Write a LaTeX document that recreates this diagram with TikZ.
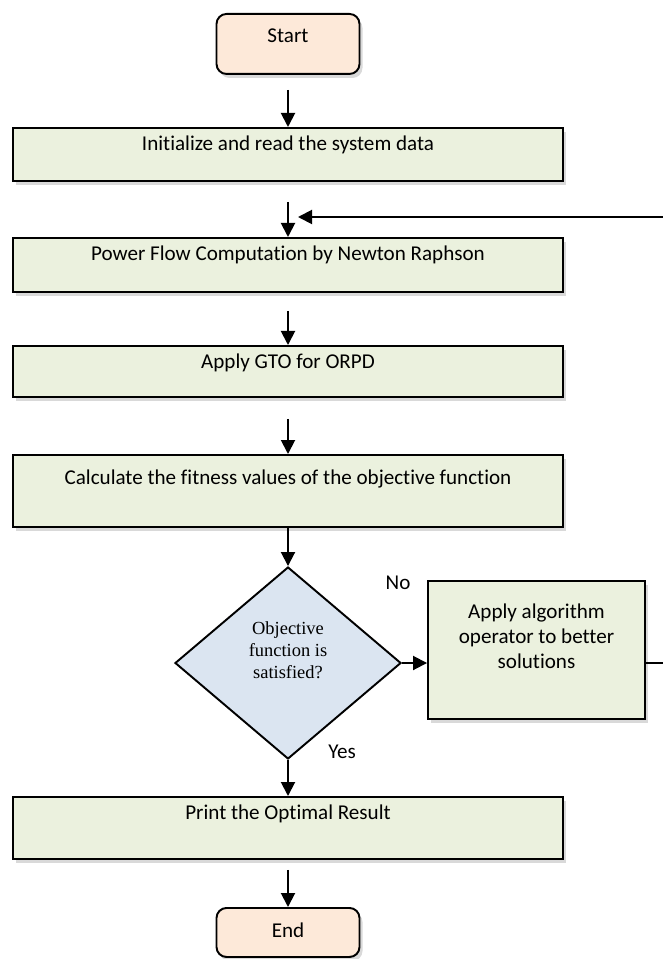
\documentclass[tikz,border=0pt]{standalone}
\usepackage{fontspec}
\setmainfont[Ligatures=NoCommon]{Carlito}
\newfontfamily\qfont{Liberation Serif}
\usepackage{tikz}
\usetikzlibrary{arrows.meta, shapes.geometric, shadows}
\usepackage{xcolor}
\definecolor{boxgreen}{RGB}{235,241,222}
\definecolor{termpeach}{RGB}{253,233,217}
\definecolor{decblue}{RGB}{219,229,241}

\begin{document}
\begin{tikzpicture}[every node/.style={font=\fontsize{12}{14.5}\selectfont},
	gbox/.style={draw, line width=1.1pt, fill=boxgreen, inner sep=0pt, drop shadow={shadow xshift=0.06cm, shadow yshift=-0.08cm, opacity=0.3}},
	procbox/.style={gbox, minimum width=11cm, text height=0.46cm, anchor=north},
	termbox/.style={draw, line width=1.1pt, fill=termpeach, rounded corners=0.2cm, minimum width=2.86cm, inner sep=0pt, anchor=north, drop shadow={shadow xshift=0.06cm, shadow yshift=-0.08cm, opacity=0.3}},
	flow/.style={-{Triangle[length=0.28cm,width=0.28cm]}, line width=1.1pt}]
			\useasboundingbox (0,0) rectangle (13.24,-19.18);
			
			\node[termbox, text height=0.58cm, text depth=0.62cm] (start) at (5.76,-0.26) {Start};
			\node[procbox, text depth=0.6cm] (init) at (5.76,-2.54) {Initialize and read the system data};
			\node[procbox, text depth=0.62cm] (pf) at (5.76,-4.74) {Power Flow Computation by Newton Raphson};
			\node[procbox, text depth=0.56cm] (gto) at (5.76,-6.9) {Apply GTO for ORPD};
			\node[procbox, text height=0.6cm, text depth=0.84cm] (fit) at (5.76,-9.08) {Calculate the fitness values of the objective function};
			
			\node[diamond, draw, line width=1.1pt, fill=decblue, minimum width=4.52cm, minimum height=3.84cm, inner sep=0pt, align=center, text height=1.13cm, text depth=0.5cm, font=\qfont\fontsize{10.5}{12.5}\selectfont] (q) at (5.76,-13.26) {Objective\\function is\\satisfied?};
			\node[gbox, minimum width=4.34cm, align=center, text height=1.76cm, text depth=1.0cm, anchor=north] (apply) at (10.73,-11.6) {Apply algorithm\\operator to better\\solutions};
			
			\node[procbox, text depth=0.78cm] (result) at (5.76,-15.92) {Print the Optimal Result};
			\node[termbox, text height=0.6cm, text depth=0.38cm] (end) at (5.76,-18.14) {End};
			
			\node (no) at (7.96,-11.66) {No};
			\node (yes) at (6.84,-15.04) {Yes};
			
			\draw[flow, shorten <=0.3cm] (start) -- (init);
			\draw[flow, shorten <=0.4cm] (init) -- (pf);
			\draw[flow, shorten <=0.36cm] (pf) -- (gto);
			\draw[flow, shorten <=0.42cm] (gto) -- (fit);
			\draw[flow] (fit) -- (q);
			\draw[flow] (q) -- (result);
			\draw[flow, shorten <=0.2cm] (result) -- (end);
			\draw[flow] (q.east) -- (q.east -| apply.west);
			
			\coordinate (fbin) at (5.96,-4.34);
			\draw[flow] (q.east -| apply.east) -- ++(0.4,0) |- (fbin);
		\end{tikzpicture}
\end{document}
